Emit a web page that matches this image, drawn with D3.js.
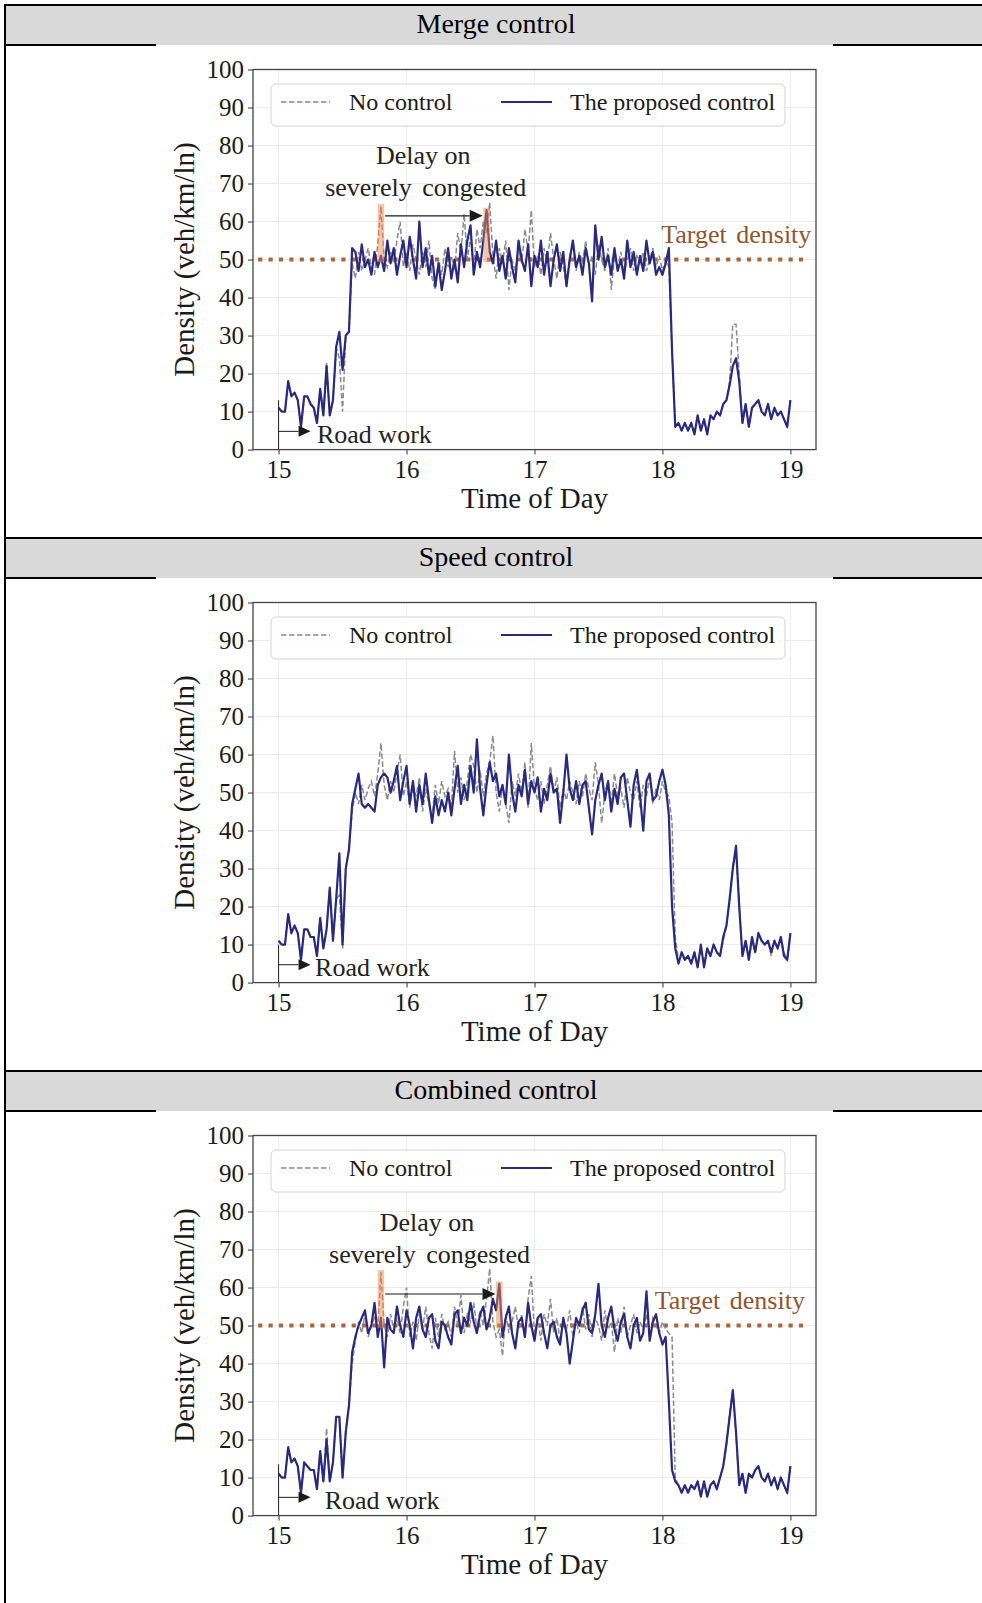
<!DOCTYPE html>
<html>
<head>
<meta charset="utf-8">
<script src="https://cdn.jsdelivr.net/npm/d3@7"></script>
<style>
  html, body { margin: 0; padding: 0; background: #fff; }
  svg { display: block; }
  text { font-family: "Liberation Serif", "Times New Roman", serif; }
</style>
</head>
<body>
<script>
// Sample times: 1.5-minute steps from 15:00 to 19:00
const times = d3.range(161).map(i => 15 + i / 40);
const xTicks = [15, 16, 17, 18, 19];
const yTicks = d3.range(0, 101, 10);
const panelTitles = ["Merge control", "Speed control", "Combined control"];
const seriesNames = ["No control", "The proposed control"];
const targetDensity = 50;

// Merge control
const mergeNoControl = [11,10,10,18,14,15,13,6,14,14,12,11,7,16,9,23,9,13,27,24,10,30,31,
  49,45,52,47,50,53,48,46,54,64,
  50,48,52,49,55,60,48,52,47,54,
  50,46,52,48,55,45,42,50,46,53,
  48,51,47,57,52,62,50,56,48,58,
  53,60,57,65,51,45,53,49,55,42,
  50,47,53,49,58,52,63,48,51,46,
  53,49,57,50,45,52,48,43,51,54,
  47,52,49,55,48,51,46,54,50,47,
  53,42,51,48,52,46,50,53,47,51,
  49,52,47,50,53,48,51,47,50,48,
  26,6,7,5,7,5,7,4,9,5,
  8,4,9,8,10,9,12,13,18,33,
  33,20,7,12,6,11,12,13,10,9,
  12,8,11,9,10,8,6,13];
const mergeProposed = [11,10,10,18,14,15,13,6,14,14,12,11,7,16,9,22,9,13,27,31,21,30,31,
  53,52,47,54,48,50,46,52,48,51,
  47,55,49,53,46,51,55,48,56,50,
  45,60,48,53,46,51,43,49,42,47,
  53,45,50,44,54,48,55,59,46,52,
  48,55,63,52,49,55,47,51,45,53,
  48,44,55,50,47,54,43,51,48,55,
  46,52,43,50,54,47,52,43,50,55,
  48,51,46,53,49,39,59,50,56,48,
  51,46,53,47,50,45,55,48,52,46,
  51,47,55,49,52,46,48,46,49,53,
  26,6,7,5,7,5,7,4,9,5,
  8,4,9,8,10,9,12,13,17,22,
  24,18,7,12,6,11,12,13,10,9,
  12,8,11,9,10,8,6,13];

// Speed control
const speedNoControl = [11,10,10,18,13,15,13,6,14,14,12,12,7,17,9,14,25,11,22,23,9,30,35,
  45,50,47,52,48,51,53,49,55,63,
  52,48,53,50,55,60,49,53,46,52,
  49,54,45,51,47,44,52,47,53,49,
  51,46,61,50,54,48,53,60,57,50,
  56,49,55,58,65,50,45,52,47,42,
  53,49,55,50,58,46,63,51,48,53,
  47,52,57,50,54,46,51,48,53,50,
  47,53,49,55,51,48,58,52,42,50,
  53,47,55,49,51,46,54,50,48,53,
  46,52,49,54,47,51,48,53,50,49,
  42,12,6,7,6,7,5,8,4,9,
  5,9,7,10,8,7,11,15,21,31,
  34,21,7,11,6,11,8,13,11,10,
  11,7,11,9,12,8,6,13];
const speedProposed = [11,10,10,18,13,15,13,6,14,14,12,12,7,17,9,14,25,11,22,34,10,30,35,
  47,51,55,47,46,47,46,45,52,54,
  55,54,50,53,57,48,53,57,47,53,
  45,52,47,55,48,42,49,44,48,45,
  50,44,51,57,47,52,48,57,50,64,
  51,44,52,58,53,55,49,52,47,60,
  50,45,52,49,56,47,53,50,54,45,
  51,48,55,50,51,42,50,60,51,48,
  53,47,52,53,46,39,48,52,55,48,
  53,45,51,47,54,55,48,41,52,56,
  49,40,53,55,48,49,53,56,52,44,
  20,9,5,8,6,7,5,8,4,10,
  4,9,7,10,8,7,12,15,22,30,
  36,20,7,11,6,12,8,13,11,10,
  11,8,11,9,12,7,6,13];

// Combined control
const combinedNoControl = [11,10,10,18,14,15,13,6,14,13,12,12,7,17,9,23,9,14,26,26,10,22,29,
  40,46,51,48,53,47,50,52,49,64,
  50,47,53,49,52,48,55,60,47,51,
  46,53,49,55,48,44,52,47,53,49,
  51,47,55,50,58,48,53,51,56,49,
  54,50,57,65,51,47,49,42,53,48,
  51,55,49,53,47,57,63,48,52,46,
  53,50,57,48,52,46,51,49,54,47,
  51,48,55,49,53,47,52,50,46,54,
  49,51,43,52,48,55,47,50,53,48,
  51,49,53,47,52,50,48,51,49,48,
  47,10,8,6,8,6,8,7,9,5,
  9,5,8,9,7,10,13,18,27,33,
  21,8,11,6,11,10,12,13,10,9,
  11,8,10,7,10,8,6,13];
const combinedProposed = [11,10,10,18,14,15,13,6,14,13,12,12,7,17,9,20,9,14,26,26,10,22,29,
  43,47,50,52,54,48,50,56,47,52,
  39,52,49,48,55,50,47,54,50,44,
  52,55,49,47,52,53,46,44,51,50,
  47,45,53,54,48,52,50,56,51,48,
  53,55,49,52,57,54,61,47,52,55,
  48,44,51,52,47,56,50,46,52,53,
  48,44,50,51,47,45,52,48,40,46,
  52,50,54,56,49,48,53,61,50,47,
  52,55,49,46,51,53,47,44,50,52,
  46,48,59,46,51,53,48,45,47,30,
  12,9,8,6,8,6,8,7,9,5,
  9,5,8,9,7,10,13,19,26,33,
  22,8,11,6,11,10,12,13,10,9,
  11,8,10,7,10,8,6,13];

// Panel definitions with their annotations (positions in data units)
const panels = [
  {
    title: panelTitles[0], noControl: mergeNoControl, proposed: mergeProposed,
    delay: { first: { series: "noControl", idx: 32 }, second: { series: "proposed", idx: 65 },
             arrowY: 61.5, line1: [16.13, 77.4], line2: [16.15, 69.0] },
    target: [17.99, 56.7],
    road: { h: 13, arrowY: 4.8, textX: 15.3, textY: 4.0 }
  },
  {
    title: panelTitles[1], noControl: speedNoControl, proposed: speedProposed,
    delay: null, target: null,
    road: { h: 10, arrowY: 4.7, textX: 15.285, textY: 4.0 }
  },
  {
    title: panelTitles[2], noControl: combinedNoControl, proposed: combinedProposed,
    delay: { first: { series: "noControl", idx: 32 }, second: { series: "proposed", idx: 69 },
             arrowY: 58.3, line1: [16.16, 77.2], line2: [16.18, 68.8] },
    target: [17.94, 56.5],
    road: { h: 13.5, arrowY: 4.8, textX: 15.36, textY: 4.0 }
  }
];

const W = 982, H = 1603;
const SECTION = 533, TOP0 = 5, HEADER = 40;
const PL = 253, PR = 816;
const SERIF = '"Liberation Serif", "Times New Roman", serif';

const navy = "#29297f", gray = "#8a8a8a", brown = "#a5693f", brownText = "#8f5530";

const svg = d3.select("body").append("svg").attr("width", W).attr("height", H);
const x = d3.scaleLinear().domain([14.8, 19.2]).range([PL, PR]);

panels.forEach((p, k) => {
  const top = TOP0 + k * SECTION;

  // table header row
  svg.append("rect").attr("x", 5).attr("y", top).attr("width", 1000).attr("height", HEADER)
    .attr("fill", "#d9d9d9");
  svg.append("line").attr("x1", 4).attr("x2", 1000).attr("y1", top).attr("y2", top)
    .attr("stroke", "#000").attr("stroke-width", 2);
  [[4, 156], [833, 1000]].forEach(([a, b]) => {
    svg.append("line").attr("x1", a).attr("x2", b).attr("y1", top + HEADER).attr("y2", top + HEADER)
      .attr("stroke", "#000").attr("stroke-width", 2);
  });
  svg.append("text").attr("x", 496).attr("y", top + HEADER / 2 - 2)
    .attr("text-anchor", "middle").attr("dominant-baseline", "central")
    .attr("font-size", 28).attr("fill", "#000").text(p.title);

  const pt = top + 64.5, pb = top + 444.6;
  const y = d3.scaleLinear().domain([0, 100]).range([pb, pt]);
  const g = svg.append("g");

  // grid
  g.selectAll(null).data(xTicks).join("line")
    .attr("x1", d => x(d)).attr("x2", d => x(d)).attr("y1", pt).attr("y2", pb)
    .attr("stroke", "#ececec").attr("stroke-width", 1);
  g.selectAll(null).data(yTicks).join("line")
    .attr("x1", PL).attr("x2", PR).attr("y1", d => y(d)).attr("y2", d => y(d))
    .attr("stroke", "#ececec").attr("stroke-width", 1);

  // axes
  const xa = g.append("g").attr("transform", `translate(0,${pb})`)
    .call(d3.axisBottom(x).tickValues(xTicks).tickFormat(d3.format("d")).tickSize(5).tickPadding(6));
  const ya = g.append("g").attr("transform", `translate(${PL},0)`)
    .call(d3.axisLeft(y).tickValues(yTicks).tickFormat(d3.format("d")).tickSize(5).tickPadding(4));
  [xa, ya].forEach(a => {
    a.attr("font-family", null).attr("font-size", null).style("font-family", SERIF);
    a.select(".domain").remove();
    a.selectAll(".tick line").attr("stroke", "#444").attr("stroke-width", 1.1);
    a.selectAll(".tick text").style("font-family", SERIF).style("font-size", "25px").attr("fill", "#1a1a1a");
  });

  // axis titles
  g.append("text").attr("x", (PL + PR) / 2).attr("y", pb + 58)
    .attr("text-anchor", "middle").attr("font-size", 29).attr("fill", "#1a1a1a").text("Time of Day");
  g.append("text").attr("transform", `translate(184,${(pt + pb) / 2}) rotate(-90)`)
    .attr("text-anchor", "middle").attr("dominant-baseline", "central")
    .attr("font-size", 29).attr("fill", "#1a1a1a").text("Density (veh/km/ln)");

  // target density
  if (p.target) {
    g.append("line").attr("x1", x(14.84)).attr("x2", x(19.1))
      .attr("y1", y(targetDensity)).attr("y2", y(targetDensity))
      .attr("stroke", brown).attr("stroke-width", 4).attr("stroke-dasharray", "4.2,6.2");
  }

  // series
  const line = d3.line().x((d, i) => x(times[i])).y(d => y(d));
  g.append("path").datum(p.noControl).attr("d", line).attr("fill", "none")
    .attr("stroke", gray).attr("stroke-width", 1.5).attr("stroke-dasharray", "5.5,2.5");
  g.append("path").datum(p.proposed).attr("d", line).attr("fill", "none")
    .attr("stroke", navy).attr("stroke-width", 2.2).attr("stroke-linejoin", "round");

  // arrow helper
  const arrow = (x1, x2, yy, headL, headW, sw) => {
    g.append("line").attr("x1", x1).attr("x2", x2 - headL).attr("y1", yy).attr("y2", yy)
      .attr("stroke", "#1a1a1a").attr("stroke-width", sw);
    g.append("path").attr("d", `M${x2},${yy}L${x2 - headL},${yy - headW}L${x2 - headL},${yy + headW}Z`)
      .attr("fill", "#1a1a1a");
  };

  // delay annotation
  if (p.delay) {
    const d = p.delay;
    const t1 = times[d.first.idx], v1 = p[d.first.series][d.first.idx];
    const t2 = times[d.second.idx], v2 = p[d.second.series][d.second.idx];
    [[t1, v1], [t2, v2]].forEach(([t, v]) => {
      g.append("rect").attr("x", x(t - 0.025)).attr("width", x(t + 0.025) - x(t - 0.025))
        .attr("y", y(v + 0.6)).attr("height", y(49.3) - y(v + 0.6))
        .attr("fill", "#f08a4b").attr("fill-opacity", 0.5);
    });
    arrow(x(t1 + 0.032), x(t2 - 0.03), y(d.arrowY), 13, 6, 1.2);
    g.append("text").attr("x", x(d.line1[0])).attr("y", y(d.line1[1]))
      .attr("text-anchor", "middle").attr("dominant-baseline", "central")
      .attr("font-size", 26).attr("fill", "#222").text("Delay on");
    g.append("text").attr("x", x(d.line2[0])).attr("y", y(d.line2[1]))
      .attr("text-anchor", "middle").attr("dominant-baseline", "central")
      .attr("font-size", 26).attr("word-spacing", 4).attr("fill", "#222").text("severely congested");
  }
  if (p.target) {
    g.append("text").attr("x", x(p.target[0])).attr("y", y(p.target[1]))
      .attr("dominant-baseline", "central").attr("font-size", 26).attr("word-spacing", 3)
      .attr("fill", brownText).text("Target density");
  }

  // road work marker
  const r = p.road;
  g.append("line").attr("x1", x(15)).attr("x2", x(15)).attr("y1", y(0)).attr("y2", y(r.h))
    .attr("stroke", "#222").attr("stroke-width", 1);
  arrow(x(15), x(15.25), y(r.arrowY), 12, 5.5, 1);
  g.append("text").attr("x", x(r.textX)).attr("y", y(r.textY))
    .attr("dominant-baseline", "central").attr("font-size", 26).attr("fill", "#222").text("Road work");

  // spines
  g.append("rect").attr("x", PL).attr("y", pt).attr("width", PR - PL).attr("height", pb - pt)
    .attr("fill", "none").attr("stroke", "#444").attr("stroke-width", 1.3);

  // legend
  const lg = g.append("g").attr("transform", `translate(${PL + 18},${pt + 14.5})`);
  lg.append("rect").attr("width", 514).attr("height", 42).attr("rx", 5)
    .attr("fill", "#fff").attr("fill-opacity", 0.85).attr("stroke", "#d4d4d4").attr("stroke-width", 1);
  lg.append("line").attr("x1", 10).attr("x2", 59).attr("y1", 18).attr("y2", 18)
    .attr("stroke", gray).attr("stroke-width", 1.5).attr("stroke-dasharray", "5.5,2.5");
  lg.append("text").attr("x", 78).attr("y", 18).attr("dominant-baseline", "central")
    .attr("font-size", 24).attr("fill", "#1a1a1a").text(seriesNames[0]);
  lg.append("line").attr("x1", 230).attr("x2", 281).attr("y1", 18).attr("y2", 18)
    .attr("stroke", navy).attr("stroke-width", 2.2);
  lg.append("text").attr("x", 299).attr("y", 18).attr("dominant-baseline", "central")
    .attr("font-size", 24).attr("fill", "#1a1a1a").text(seriesNames[1]);
});

// table left border
svg.append("line").attr("x1", 5).attr("x2", 5).attr("y1", 4).attr("y2", H)
  .attr("stroke", "#000").attr("stroke-width", 2);
</script>
</body>
</html>
